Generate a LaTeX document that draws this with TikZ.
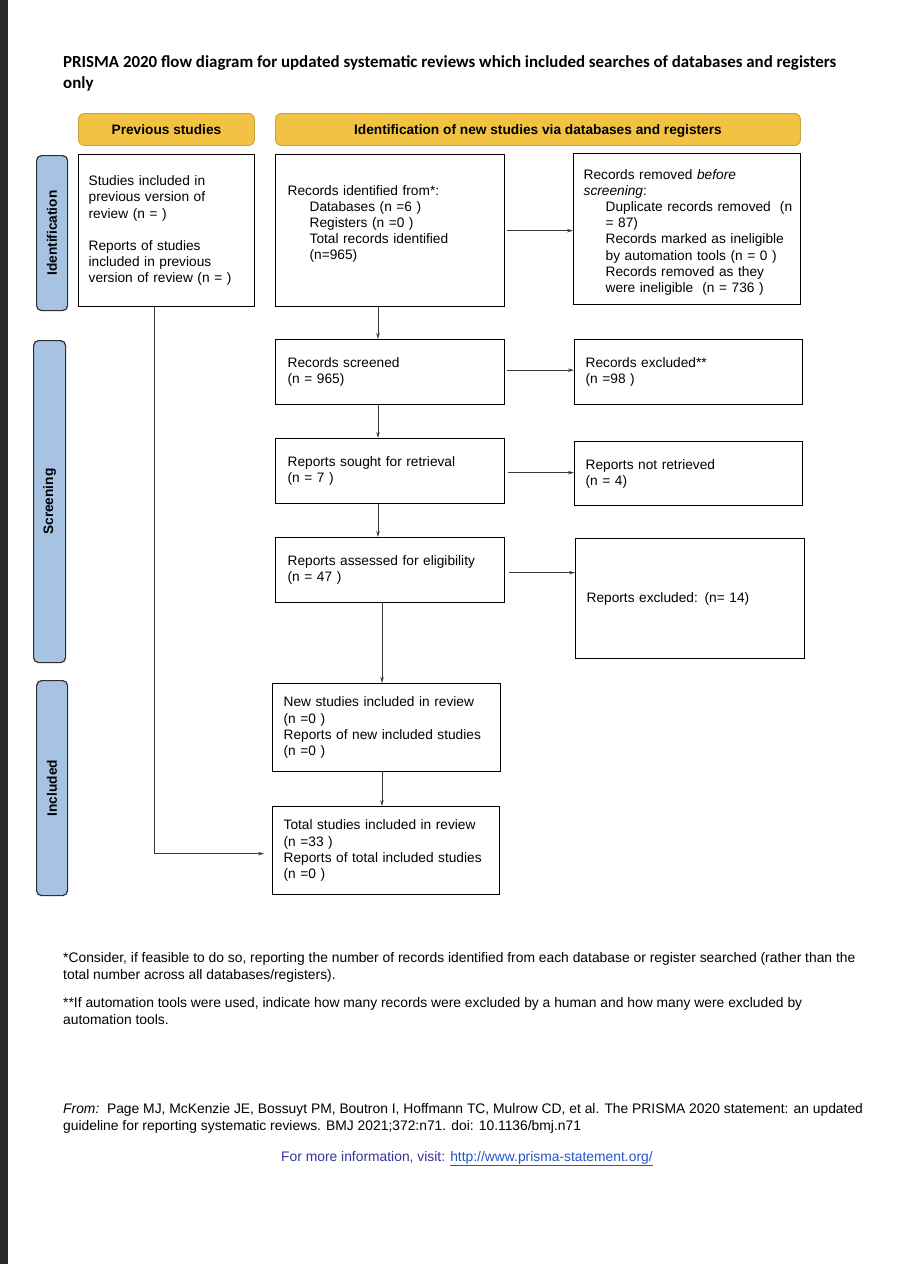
\documentclass[tikz,border=0pt]{standalone}
\usepackage{fontspec}
\setmainfont{Liberation Sans}
\newfontfamily\titlefont{Carlito}
\usetikzlibrary{arrows.meta}
\definecolor{hdrfill}{HTML}{F2C343}
\definecolor{hdrdraw}{HTML}{C9A13A}
\definecolor{sidefill}{HTML}{A7C3E4}
\definecolor{sidedraw}{HTML}{2E2E2E}
\definecolor{linegray}{HTML}{3A3A3A}
\definecolor{infoblue}{HTML}{34349C}
\definecolor{linkblue}{HTML}{2256CC}
\definecolor{leftstrip}{HTML}{282828}
\begin{document}
\begin{tikzpicture}[x=1pt,y=-1pt,
  txt/.style={font=\fontsize{13.7}{16.2}\selectfont},
  foot/.style={font=\fontsize{13.85}{16.2}\selectfont},
  hdr/.style={draw=hdrdraw,fill=hdrfill,line width=0.9pt,rounded corners=6pt,
    font=\fontsize{13.7}{16}\selectfont\bfseries,inner sep=0pt,text height=10pt,text depth=0pt},
  side/.style={draw=sidedraw,fill=sidefill,line width=1.2pt,rounded corners=5pt},
  sidelabel/.style={rotate=90,font=\fontsize{13.7}{16}\selectfont\bfseries},
  flowbox/.style={draw=black,line width=1.3pt,anchor=north west,inner xsep=0pt,inner ysep=0pt,
    align=left,txt},
  arr/.style={draw=linegray,line width=0.8pt,-{Stealth[length=6pt,width=3.5pt]}}]
\useasboundingbox (0,0) rectangle (922,1264);
\fill[white] (0,0) rectangle (922,1264);
\fill[leftstrip] (0,0) rectangle (8,1264);

% title
\node[anchor=base west,inner sep=0pt,font=\titlefont\fontsize{16.9}{20}\selectfont\bfseries] (title1) at (63,67)
  {PRISMA 2020 flow diagram for updated systematic reviews which included searches of databases and registers};
\node[anchor=base west,inner sep=0pt,font=\titlefont\fontsize{16.9}{20}\selectfont\bfseries] (title2) at (63,88) {only};

% headers
\node[hdr,minimum width=176pt,minimum height=32pt,anchor=north west] (hprev) at (78,113) {Previous studies};
\node[hdr,minimum width=525pt,minimum height=32pt,anchor=north west] (hnew) at (275,113) {Identification of new studies via databases and registers};

% side bars
\node[side,minimum width=31pt,minimum height=155pt,anchor=north west] (sid) at (36,155) {};
\node[sidelabel] (sidt) at (sid.center) {Identification};
\node[side,minimum width=32pt,minimum height=322pt,anchor=north west] (ssc) at (33,340) {};
\node[sidelabel] (ssct) at (ssc.center) {Screening};
\node[side,minimum width=31pt,minimum height=215pt,anchor=north west] (sin) at (36,680) {};
\node[sidelabel] (sint) at (sin.center) {Included};

% boxes
\node[flowbox,minimum width=176pt,minimum height=152pt,text width=176pt] (prev) at (78,154)
  {\hspace*{10pt}Studies included in\\ \hspace*{10pt}previous version of\\ \hspace*{10pt}review (n = )\\[16pt]
   \hspace*{10pt}Reports of studies\\ \hspace*{10pt}included in previous\\ \hspace*{10pt}\mbox{version of review (n = )}};
\node[flowbox,minimum width=229pt,minimum height=152pt,text width=229pt] (ident) at (275,154)
  {\hspace*{12pt}Records identified from*:\\
   \hspace*{34pt}Databases (n =6 )\\
   \hspace*{34pt}Registers (n =0 )\\
   \hspace*{34pt}Total records identified\\
   \hspace*{34pt}(n=965)\\ \mbox{}};
\node[flowbox,minimum width=227pt,minimum height=151pt,text width=227pt] (remov) at (573,153)
  {\rule{0pt}{16pt}\hspace*{10pt}Records removed \textit{before}\\
   \hspace*{10pt}\textit{screening}:\\
   \hspace*{32pt}\mbox{Duplicate records removed\ \ (n}\\
   \hspace*{32pt}= 87)\\
   \hspace*{32pt}\mbox{Records marked as ineligible}\\
   \hspace*{32pt}\mbox{by automation tools (n = 0 )}\\
   \hspace*{32pt}Records removed as they\\
   \hspace*{32pt}\mbox{were ineligible\ \ (n = 736 )}};
\node[flowbox,minimum width=229pt,minimum height=65pt,text width=229pt] (scr) at (275,339)
  {\hspace*{12pt}Records screened\\ \hspace*{12pt}(n = 965)};
\node[flowbox,minimum width=228pt,minimum height=65pt,text width=228pt] (rexc) at (574,339)
  {\hspace*{11pt}Records excluded**\\ \hspace*{11pt}(n =98 )};
\node[flowbox,minimum width=229pt,minimum height=65pt,text width=229pt] (sought) at (275,438)
  {\hspace*{12pt}Reports sought for retrieval\\ \hspace*{12pt}(n = 7 )};
\node[flowbox,minimum width=228pt,minimum height=64pt,text width=228pt] (notret) at (574,441)
  {\hspace*{11pt}Reports not retrieved\\ \hspace*{11pt}(n = 4)};
\node[flowbox,minimum width=229pt,minimum height=65pt,text width=229pt] (assess) at (275,537)
  {\hspace*{12pt}Reports assessed for eligibility\\ \hspace*{12pt}(n = 47 )};
\node[flowbox,minimum width=229pt,minimum height=120pt,text width=229pt] (rpexc) at (575,538)
  {\hspace*{11pt}Reports excluded: (n= 14)};
\node[flowbox,minimum width=228pt,minimum height=88pt,text width=228pt] (newst) at (272,683)
  {\hspace*{11pt}New studies included in review\\ \hspace*{11pt}(n =0 )\\
   \hspace*{11pt}Reports of new included studies\\ \hspace*{11pt}(n =0 )};
\node[flowbox,minimum width=227pt,minimum height=88pt,text width=227pt] (total) at (272,806)
  {\hspace*{11pt}Total studies included in review\\ \hspace*{11pt}(n =33 )\\
   \hspace*{11pt}Reports of total included studies\\ \hspace*{11pt}(n =0 )};

% connector guide coordinates
\coordinate (ax) at (378,0);
\coordinate (bx) at (382,0);
\coordinate (cx) at (154,0);

% connectors
\draw[arr,shorten <=2pt] (ident.east) -- (ident.east -| remov.west);
\draw[arr,shorten <=2pt] ([yshift=2pt]scr.east) -- ([yshift=2pt]scr.east -| rexc.west);
\draw[arr,shorten <=3pt] ([yshift=-1.5pt]sought.east) -- ([yshift=-1.5pt]sought.east -| notret.west);
\draw[arr,shorten <=4pt] ([yshift=-2.5pt]assess.east) -- ([yshift=-2.5pt]assess.east -| rpexc.west);
\draw[arr] (ident.south -| ax) -- (scr.north -| ax);
\draw[arr] (scr.south -| ax) -- (sought.north -| ax);
\draw[arr] (sought.south -| ax) -- (assess.north -| ax);
\draw[arr] (assess.south -| bx) -- (newst.north -| bx);
\draw[arr] (newst.south -| bx) -- (total.north -| bx);
\draw[arr,shorten >=8pt] (prev.south -| cx) |- ([yshift=-3pt]total.west);

% footnotes (base anchor = last line)
\node[anchor=base west,inner sep=0pt,foot,align=left] (fn1) at (63,979)
  {*Consider, if feasible to do so, reporting the number of records identified from each database or register searched (rather than the\\
   total number across all databases/registers).};
\node[anchor=base west,inner sep=0pt,foot,align=left] (fn2) at (63,1024)
  {**If automation tools were used, indicate how many records were excluded by a human and how many were excluded by\\
   automation tools.};
\node[anchor=base west,inner sep=0pt,foot,align=left] (fn3) at (63,1130)
  {\textit{From:}\ \ Page MJ, McKenzie JE, Bossuyt PM, Boutron I, Hoffmann TC, Mulrow CD, et al. The PRISMA 2020 statement: an updated\\
   guideline for reporting systematic reviews. BMJ 2021;372:n71. doi: 10.1136/bmj.n71};
\node[anchor=base west,inner sep=0pt,foot,text=infoblue] (info) at (281,1161)
  {For more information, visit: \textcolor{linkblue}{\underline{http://www.prisma-statement.org/}}};
\end{tikzpicture}
\end{document}
